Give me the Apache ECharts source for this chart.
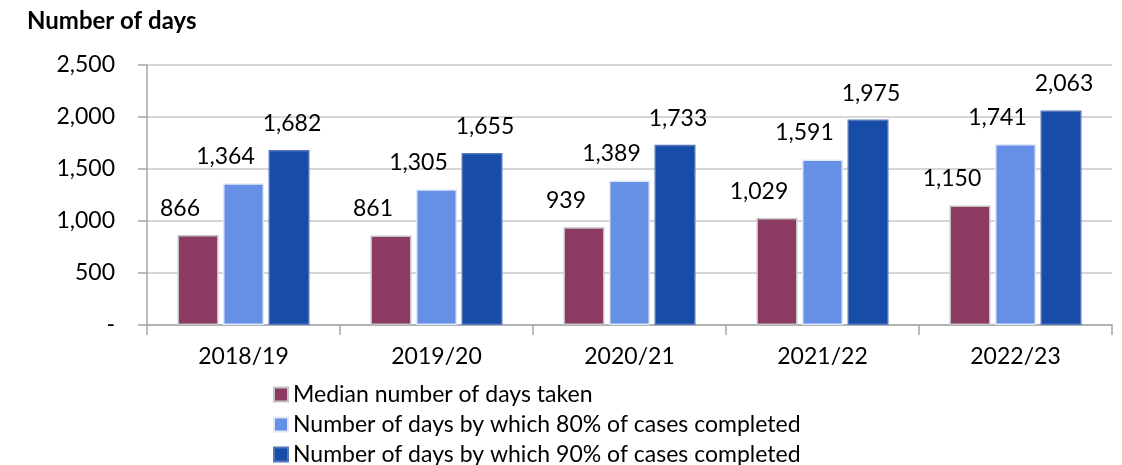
<!DOCTYPE html>
<html><head><meta charset="utf-8">
<script src="https://cdn.jsdelivr.net/npm/echarts@6/dist/echarts.min.js"></script>
<style>html,body{margin:0;padding:0;background:#fff}#c{width:1122px;height:465px}</style>
</head><body><div id="c"></div>
<script>
const categories = ['2018/19','2019/20','2020/21','2021/22','2022/23'];
const seriesNames = ['Median number of days taken','Number of days by which 80% of cases completed','Number of days by which 90% of cases completed'];
const medianDays = [866, 861, 939, 1029, 1150];
const days80 = [1364, 1305, 1389, 1591, 1741];
const days90 = [1682, 1655, 1733, 1975, 2063];
const yTicks = [0, 500, 1000, 1500, 2000, 2500];

const FONT = 'Lato';
const FS = 23;
const fmt = v => v === 0 ? '-' : v.toLocaleString('en-US');
const colors = ['#8B3A62', '#6690E6', '#174CA8'];
const borders = ['#c4c4c4', '#dfe8f8', '#5577bb'];
const offs = [[-18,0],[-18,0],[3,0]];
const vals = [medianDays, days80, days90];

const chart = echarts.init(document.getElementById('c'), null, {renderer:'canvas'});
chart.setOption({
  animation:false,
  textStyle:{fontFamily:FONT},
  title:{text:'Number of days', left:27, top:9, padding:0, textStyle:{fontFamily:FONT, fontWeight:'bold', fontSize:24, color:'#000'}},
  grid:{left:147, right:10, top:65, bottom:140, containLabel:false},
  legend:{orient:'vertical', left:273, top:383, padding:0, height:90, itemWidth:14, itemHeight:14, itemGap:7,
    textStyle:{fontFamily:FONT, fontSize:FS, color:'#000', lineHeight:23}, data:seriesNames, icon:'rect'},
  xAxis:{type:'category', data:categories,
    axisLine:{lineStyle:{color:'#a6a6a6', width:1.5}},
    axisTick:{show:true, length:10, lineStyle:{color:'#a6a6a6', width:1.5}},
    axisLabel:{fontFamily:FONT, fontSize:FS, color:'#000', margin:20}},
  yAxis:{type:'value', min:yTicks[0], max:yTicks[yTicks.length-1], interval:yTicks[1]-yTicks[0],
    axisLine:{show:true, lineStyle:{color:'#a6a6a6', width:1.5}},
    axisTick:{show:true, length:9, lineStyle:{color:'#a6a6a6', width:1.5}},
    splitLine:{lineStyle:{color:'#c8c8c8', width:1.5}},
    axisLabel:{fontFamily:FONT, fontSize:FS, color:'#000', margin:32, formatter:fmt}},
  series: vals.map((d,i)=>({
    name:seriesNames[i], type:'bar', data:d,
    barWidth:41, barGap:'11%',
    itemStyle:{color:colors[i], borderColor:borders[i], borderWidth:1.5},
    label:{show:true, position:'top', distance:15, offset:offs[i], fontFamily:FONT, fontSize:FS, color:'#000', formatter:p=>fmt(p.value)}
  }))
});
</script></body></html>
